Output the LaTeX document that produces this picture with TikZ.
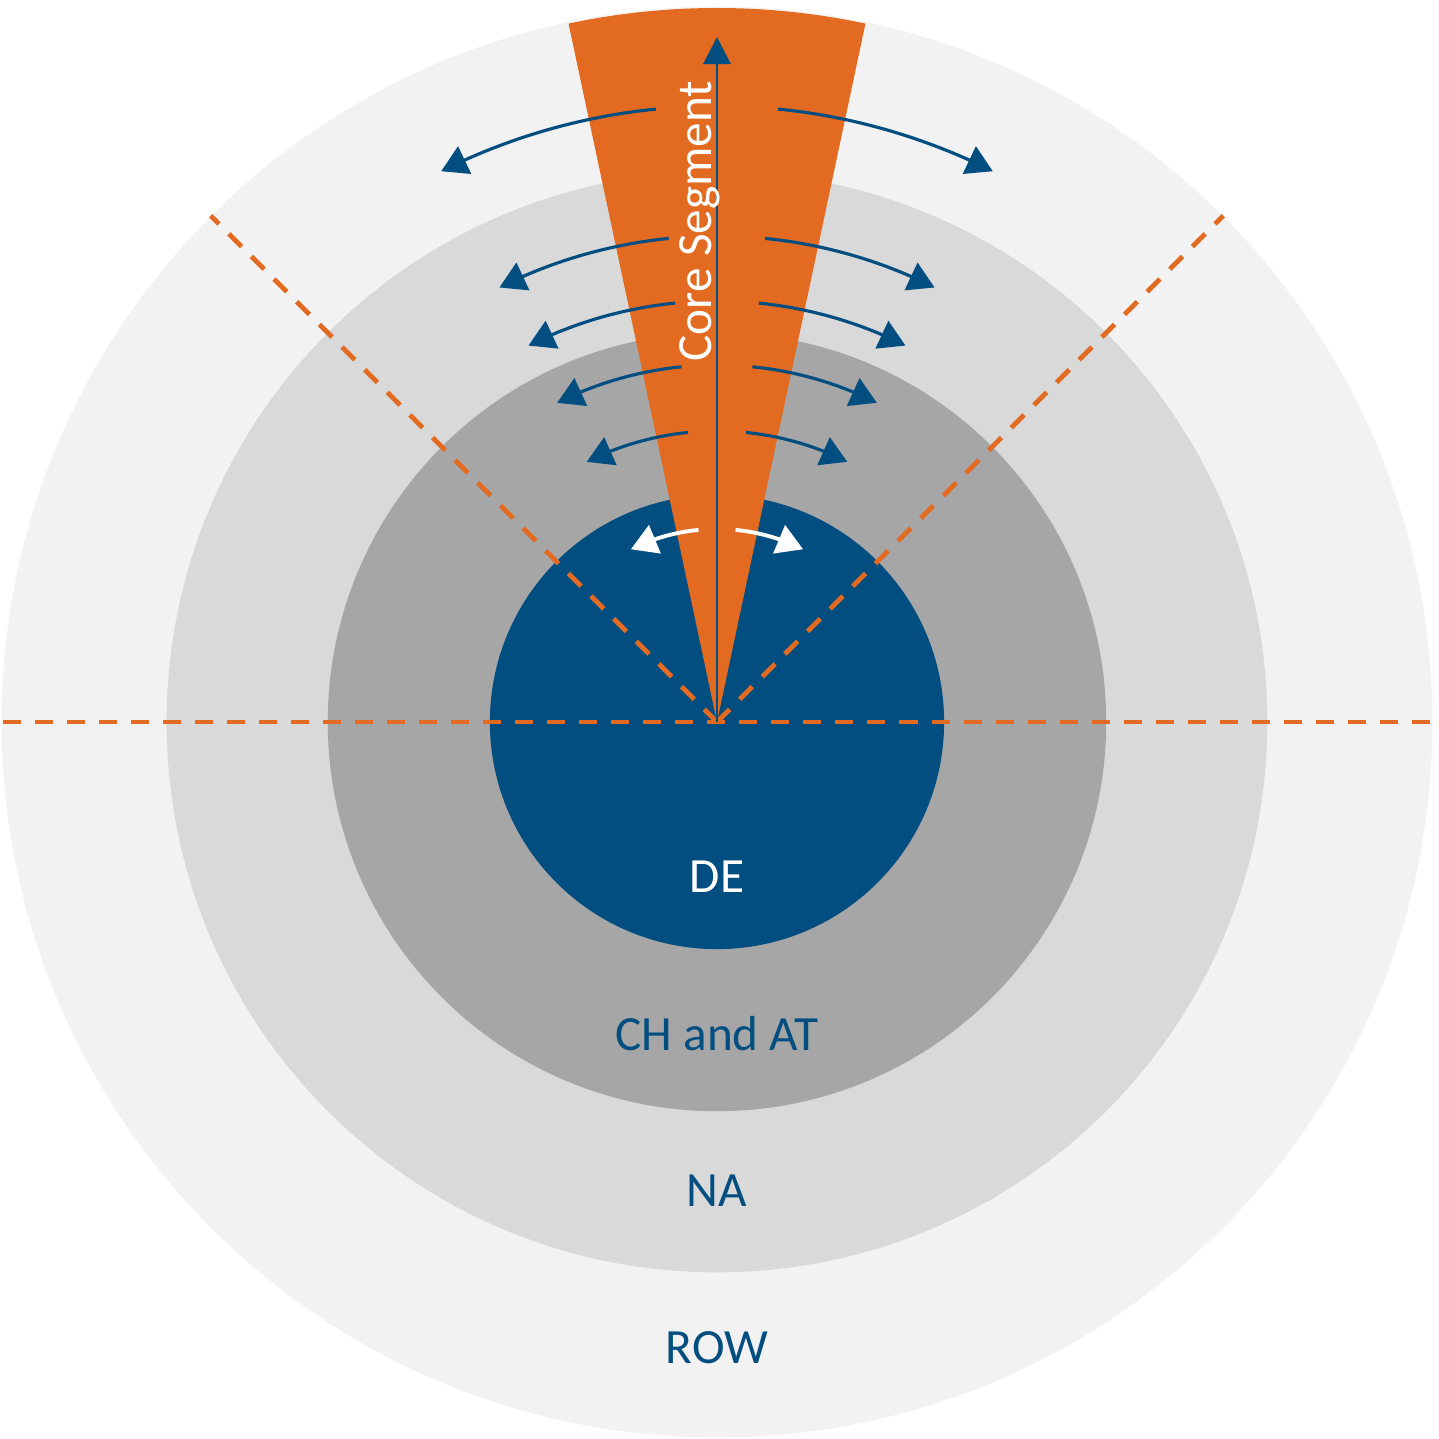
\documentclass[tikz,border=0pt]{standalone}
\usepackage{fontspec}
\setmainfont{Carlito}
\usetikzlibrary{arrows.meta,bending}
\definecolor{ringA}{HTML}{F2F2F2}
\definecolor{ringB}{HTML}{D9D9D9}
\definecolor{ringC}{HTML}{A6A6A6}
\definecolor{deblue}{HTML}{034E80}
\definecolor{coreorange}{HTML}{E36B21}
\tikzset{
  ring/.style={circle, inner sep=0pt, minimum size=#1},
  dashline/.style={draw=coreorange, line width=1.4pt, dash pattern=on 0.18cm off 0.14cm},
  flowarrow/.style={draw=deblue, line width=0.9pt, -{Triangle[width=0.30cm,length=0.26cm,flex]}},
  whitearrow/.style={draw=white, line width=1.1pt, -{Triangle[width=0.30cm,length=0.26cm,flex]}},
  lbl/.style={inner sep=0pt, anchor=base, text=deblue, font=\fontsize{14pt}{17pt}\selectfont}
}
\begin{document}
\begin{tikzpicture}[x=0.01cm,y=0.01cm]
\useasboundingbox (-717,-717) rectangle (722,722);
% rings
\node[ring=14.30cm, fill=ringA] (row) at (0,0) {};
\node[ring=11.00cm, fill=ringB] (na) at (0,0) {};
\node[ring=7.78cm, fill=ringC] (chat) at (0,0) {};
\node[ring=4.54cm, fill=deblue] (de) at (0,0) {};
\coordinate (c) at (0,0);
% core wedge
\fill[coreorange] (c) -- (78:714) arc[start angle=78, end angle=102, radius=714] -- cycle;
% dashed sector lines
\coordinate (hl) at (180:714);
\coordinate (hr) at (0:716);
\coordinate (dl) at (135:716);
\coordinate (dr) at (45:716);
\draw[dashline] (hl) -- (hr);
\draw[dashline] (c) -- (dl);
\draw[dashline] (c) -- (dr);
% core arrow
\coordinate (top) at (90:685);
\draw[draw=deblue, line width=0.85pt, -{Triangle[width=0.27cm,length=0.27cm]}] (c) -- (top);
\node[rotate=90, anchor=base west, inner sep=0pt, text=white, font=\fontsize{14pt}{17pt}\selectfont] (core) at (-5,360) {Core Segment};
% spreading arrows
\foreach \r/\n in {616/a,486/b,421/c,357/d,291/e}{
  \coordinate (l\n) at (95.7:\r);
  \coordinate (r\n) at (84.3:\r);
  \draw[flowarrow] (l\n) arc[start angle=95.7, end angle=116.6, radius=\r];
  \draw[flowarrow] (r\n) arc[start angle=84.3, end angle=63.4, radius=\r];
}
\coordinate (lw) at (95.5:193);
\coordinate (rw) at (84.5:193);
\draw[whitearrow] (lw) arc[start angle=95.5, end angle=116.5, radius=193];
\draw[whitearrow] (rw) arc[start angle=84.5, end angle=63.5, radius=193];
% labels
\node[lbl, text=white] (tde) at (0,-170) {DE};
\node[lbl] (tch) at (0,-328) {CH and AT};
\node[lbl] (tna) at (0,-484) {NA};
\node[lbl] (trow) at (0,-641) {ROW};
\end{tikzpicture}
\end{document}
